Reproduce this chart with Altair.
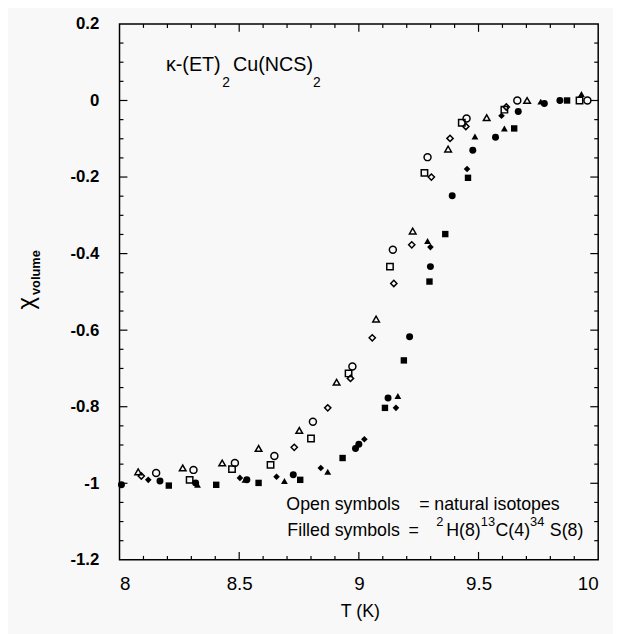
import altair as alt
import pandas as pd

# ---------------- data ----------------
# Open symbols = natural isotopes
open_circle_T   = [9.955, 9.662, 9.450, 9.287, 9.142, 8.973, 8.808, 8.647, 8.482, 8.309, 8.153]
open_circle_chi = [0.000, 0.000, -0.047, -0.148, -0.390, -0.695, -0.839, -0.929, -0.947, -0.965, -0.973]

open_square_T   = [9.922, 9.608, 9.430, 9.274, 9.130, 8.957, 8.800, 8.631, 8.470, 8.293]
open_square_chi = [0.000, -0.024, -0.058, -0.189, -0.434, -0.713, -0.883, -0.952, -0.963, -0.991]

open_triangle_T   = [9.703, 9.534, 9.373, 9.225, 9.072, 8.907, 8.751, 8.581, 8.429, 8.264, 8.078]
open_triangle_chi = [0.000, -0.045, -0.127, -0.341, -0.571, -0.736, -0.862, -0.909, -0.947, -0.960, -0.970]

open_diamond_T   = [9.616, 9.447, 9.381, 9.303, 9.221, 9.146, 9.056, 8.965, 8.870, 8.730, 8.091]
open_diamond_chi = [-0.017, -0.068, -0.099, -0.200, -0.377, -0.478, -0.620, -0.726, -0.803, -0.906, -0.981]

# Filled symbols = 2H(8) 13C(4) 34S(8)
filled_circle_T   = [9.840, 9.775, 9.666, 9.571, 9.476, 9.390, 9.299, 9.212, 9.122, 9.000, 8.986, 8.726, 8.532, 8.318, 8.169, 8.008]
filled_circle_chi = [0.000, -0.008, -0.029, -0.096, -0.130, -0.249, -0.434, -0.617, -0.777, -0.898, -0.909, -0.978, -0.991, -0.999, -0.994, -1.004]

filled_square_T   = [9.870, 9.649, 9.456, 9.361, 9.295, 9.188, 9.109, 8.932, 8.755, 8.581, 8.404, 8.206]
filled_square_chi = [0.000, -0.073, -0.202, -0.349, -0.473, -0.679, -0.803, -0.934, -0.991, -0.999, -1.004, -1.006]

filled_triangle_T   = [9.930, 9.760, 9.608, 9.485, 9.287, 9.163, 8.870, 8.689, 8.524, 8.326]
filled_triangle_chi = [0.017, -0.003, -0.073, -0.094, -0.367, -0.772, -0.970, -0.994, -0.991, -1.004]

filled_diamond_T   = [9.596, 9.452, 9.299, 9.155, 9.023, 8.841, 8.656, 8.503, 8.120]
filled_diamond_chi = [-0.040, -0.179, -0.383, -0.803, -0.885, -0.960, -0.983, -0.986, -0.991]

# axis ticks / labels
x_label_values = [8, 8.5, 9, 9.5, 10]
y_label_values = [0.2, 0, -0.2, -0.4, -0.6, -0.8, -1, -1.2]
x_major_ticks = [8.5, 9, 9.5]
x_minor_ticks = [8.1, 8.2, 8.3, 8.4, 8.6, 8.7, 8.8, 8.9, 9.1, 9.2, 9.3, 9.4, 9.6, 9.7, 9.8, 9.9]
y_major_ticks = [0, -0.2, -0.4, -0.6, -0.8, -1]
y_minor_ticks = [0.15, 0.1, 0.05, -0.05, -0.1, -0.15, -0.25, -0.3, -0.35, -0.45, -0.5, -0.55,
                 -0.65, -0.7, -0.75, -0.85, -0.9, -0.95, -1.05, -1.1, -1.15]

# ---------------- chart ----------------
W, H = 485, 543
BG = "#f8f8f8"
FONT = "Liberation Sans"

x_scale = alt.Scale(domain=[8, 10], nice=False, zero=False)
y_scale = alt.Scale(domain=[-1.2, 0.2], nice=False, zero=False)

x_axis = alt.Axis(values=x_label_values, format="~g", title=None, ticks=False, domain=False,
                  grid=False, labelFont=FONT, labelFontSize=19, labelFontWeight="normal",
                  labelColor="black", labelPadding=15,
                  labelExpr="replace(datum.label, '\u2212', '-')")
y_axis = alt.Axis(values=y_label_values, format="~g", title=None, ticks=False, domain=False,
                  grid=False, labelFont=FONT, labelFontSize=17, labelFontWeight="bold",
                  labelColor="black", labelPadding=21,
                  labelExpr="replace(datum.label, '\u2212', '-')")

X = lambda f: alt.X(f, type="quantitative", scale=x_scale, axis=x_axis)
Y = lambda f: alt.Y(f, type="quantitative", scale=y_scale, axis=y_axis)

series = [
    ("circle", False, open_circle_T, open_circle_chi, 50),
    ("square", False, open_square_T, open_square_chi, 42),
    ("triangle-up", False, open_triangle_T, open_triangle_chi, 45),
    ("diamond", False, open_diamond_T, open_diamond_chi, 40),
    ("circle", True, filled_circle_T, filled_circle_chi, 50),
    ("square", True, filled_square_T, filled_square_chi, 42),
    ("triangle-up", True, filled_triangle_T, filled_triangle_chi, 48),
    ("diamond", True, filled_diamond_T, filled_diamond_chi, 45),
]

layers = []
for shape, filled, ts, cs, size in series:
    df = pd.DataFrame({"T": ts, "chi": cs})
    layers.append(
        alt.Chart(df).mark_point(shape=shape, filled=filled, color="black", size=size,
                                 strokeWidth=1.5, opacity=1)
        .encode(x=X("T"), y=Y("chi"))
    )

# inward ticks on all four sides
def vticks(vals, length):
    df = pd.DataFrame({"t": vals})
    bottom = alt.Chart(df).mark_rule(color="black", strokeWidth=1.2).encode(
        x=X("t"), y=alt.value(H), y2=alt.value(H - length))
    top = alt.Chart(df).mark_rule(color="black", strokeWidth=1.2).encode(
        x=X("t"), y=alt.value(0), y2=alt.value(length))
    return [bottom, top]

def hticks(vals, length):
    df = pd.DataFrame({"t": vals})
    left = alt.Chart(df).mark_rule(color="black", strokeWidth=1.2).encode(
        y=Y("t"), x=alt.value(0), x2=alt.value(length))
    right = alt.Chart(df).mark_rule(color="black", strokeWidth=1.2).encode(
        y=Y("t"), x=alt.value(W), x2=alt.value(W - length))
    return [left, right]

layers += vticks(x_major_ticks, 8) + vticks(x_minor_ticks, 4)
layers += hticks(y_major_ticks, 8) + hticks(y_minor_ticks, 4)

# text annotations (pixel positions relative to plot area)
dummy = pd.DataFrame({"a": [0]})
texts = [
    # (text, x, y, size, weight, align, angle)
    ("\u03ba-(ET)", 47, 42, 20, "normal", "left", 0),
    ("2", 104, 60, 14, "normal", "left", 0),
    ("Cu(NCS)", 115, 42, 20, "normal", "left", 0),
    ("2", 196, 60, 14, "normal", "left", 0),
    ("Open symbols", 284, 487, 18, "normal", "right", 0),
    ("=", 309, 487, 18, "normal", "center", 0),
    ("natural isotopes", 319, 487, 18, "normal", "left", 0),
    ("Filled symbols", 284, 514, 18, "normal", "right", 0),
    ("=", 298, 514, 18, "normal", "center", 0),
    ("2", 321, 505, 13, "normal", "left", 0),
    ("H(8)", 331, 514, 18, "normal", "left", 0),
    ("13", 366, 505, 13, "normal", "left", 0),
    ("C(4)", 381, 514, 18, "normal", "left", 0),
    ("34", 416, 505, 13, "normal", "left", 0),
    ("S(8)", 436, 514, 18, "normal", "left", 0),
    ("T (K)", 244, 596, 18, "normal", "center", 0),
    ("\u03c7", -94, 283, 24, "normal", "center", 270),
    ("volume", -85, 252, 13, "bold", "center", 270),
]
for t, x, y, s, w, a, ang in texts:
    layers.append(
        alt.Chart(dummy).mark_text(text=t, font=FONT, fontSize=s, fontWeight=w, align=a,
                                   baseline="middle", angle=ang, color="black")
        .encode(x=alt.value(x), y=alt.value(y))
    )

chart = alt.layer(*layers).properties(
    width=W, height=H,
    autosize=alt.AutoSizeParams(type="none"),
    padding={"left": 113, "top": 12, "right": 15, "bottom": 71},
    background=BG,
).configure_view(stroke="black", strokeWidth=1.5, fill=BG)

chart.save("out.html", embed_options={"renderer": "svg", "actions": False})
